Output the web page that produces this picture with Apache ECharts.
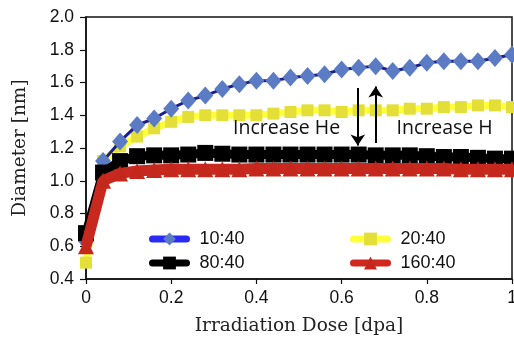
<!DOCTYPE html>
<html>
<head>
<meta charset="utf-8">
<script src="https://cdn.jsdelivr.net/npm/echarts@6/dist/echarts.min.js"></script>
<style>
  html, body { margin: 0; padding: 0; background: #fff; }
  #chart { width: 514px; height: 343px; }
</style>
</head>
<body>
<div id="chart"></div>
<script>
// Irradiation dose (dpa) at which each cluster diameter was sampled
const doses = [0, 0.04, 0.08, 0.12, 0.16, 0.2, 0.24, 0.28, 0.32, 0.36, 0.4, 0.44, 0.48,
               0.52, 0.56, 0.6, 0.64, 0.68, 0.72, 0.76, 0.8, 0.84, 0.88, 0.92, 0.96, 1.0];

// Mean cluster diameter [nm] for each He:H ratio
const d10_40 = [0.63, 1.12, 1.24, 1.34, 1.38, 1.44, 1.49, 1.52, 1.56, 1.59, 1.61, 1.61, 1.63,
                1.64, 1.65, 1.68, 1.69, 1.70, 1.67, 1.69, 1.72, 1.73, 1.73, 1.73, 1.75, 1.77];
const d20_40 = [0.50, 1.12, 1.21, 1.27, 1.32, 1.36, 1.39, 1.40, 1.40, 1.40, 1.40, 1.41, 1.42,
                1.43, 1.43, 1.42, 1.43, 1.43, 1.43, 1.44, 1.44, 1.45, 1.45, 1.46, 1.46, 1.45];
const d80_40 = [0.68, 1.05, 1.12, 1.15, 1.155, 1.155, 1.16, 1.17, 1.165, 1.16, 1.16, 1.16, 1.16,
                1.16, 1.16, 1.16, 1.16, 1.155, 1.155, 1.155, 1.15, 1.145, 1.145, 1.14, 1.135, 1.135];
const d160_40 = [0.60, 1.00, 1.045, 1.06, 1.065, 1.07, 1.07, 1.07, 1.07, 1.07, 1.075, 1.075, 1.075,
                 1.075, 1.075, 1.075, 1.075, 1.075, 1.075, 1.075, 1.075, 1.075, 1.07, 1.07, 1.07, 1.07];

const seriesNames = ['10:40', '20:40', '80:40', '160:40'];

// Trend arrows: [dose, diameter from] -> [dose, diameter to]
const arrowHe = [[0.638, 1.566], [0.638, 1.215]];
const arrowH = [[0.680, 1.230], [0.680, 1.575]];

const pairs = (ys) => doses.map((x, i) => [x, ys[i]]);

const chart = echarts.init(document.getElementById('chart'), null, { renderer: 'canvas' });

const tickFont = { fontFamily: 'Liberation Sans', fontSize: 17.5, color: '#111' };
const titleFont = { fontFamily: 'DejaVu Serif', fontSize: 18.5, color: '#222' };
const legendText = { fontFamily: 'Liberation Sans', fontSize: 18, color: '#111', padding: [0, 0, 0, 8] };

const legendBox = { orient: 'vertical', top: 225, itemWidth: 34, itemHeight: 16, itemGap: 6, textStyle: legendText };

chart.setOption({
  animation: false,
  backgroundColor: '#fff',
  grid: {
    left: 86, right: 2, top: 17, bottom: 64, containLabel: false, outerBoundsMode: 'none',
    show: true, borderColor: '#111', borderWidth: 1.5
  },
  xAxis: {
    type: 'value', min: 0, max: 1, interval: 0.2,
    name: 'Irradiation Dose [dpa]', nameLocation: 'middle', nameGap: 38, nameTextStyle: titleFont,
    axisLine: { lineStyle: { color: '#111', width: 1.5 } },
    axisTick: { inside: false, length: 5, lineStyle: { color: '#111', width: 1.2 } },
    axisLabel: Object.assign({ margin: 10 }, tickFont),
    splitLine: { show: false }
  },
  yAxis: {
    type: 'value', min: 0.4, max: 2.0, interval: 0.2,
    name: 'Diameter [nm]', nameLocation: 'middle', nameGap: 56, nameTextStyle: titleFont,
    axisLine: { show: true, lineStyle: { color: '#111', width: 1.5 } },
    axisTick: { show: true, inside: false, length: 6, lineStyle: { color: '#111', width: 1.2 } },
    axisLabel: Object.assign({ margin: 12, formatter: (v) => v.toFixed(1) }, tickFont),
    splitLine: { show: false }
  },
  legend: [
    Object.assign({}, legendBox, {
      left: 144,
      data: [
        { name: '10:40', lineStyle: { color: '#2a2af5', width: 7, cap: 'round' } },
        { name: '80:40', lineStyle: { color: '#000', width: 7, cap: 'round' } }
      ]
    }),
    Object.assign({}, legendBox, {
      left: 345,
      data: [
        { name: '20:40', lineStyle: { color: '#ffff3a', width: 7, cap: 'round' } },
        { name: '160:40', lineStyle: { color: '#d0281e', width: 7, cap: 'round' } }
      ]
    })
  ],
  series: [
    {
      name: seriesNames[1], type: 'line', data: pairs(d20_40), z: 2,
      symbol: 'rect', symbolSize: 12, showAllSymbol: true,
      lineStyle: { color: '#ffff3a', width: 7 },
      itemStyle: { color: '#e3df38' }
    },
    {
      name: seriesNames[0], type: 'line', data: pairs(d10_40), z: 3,
      symbol: 'diamond', symbolSize: [16, 18], showAllSymbol: true,
      lineStyle: { color: '#1d1d8c', width: 3 },
      itemStyle: { color: '#5b7cc5' }
    },
    {
      name: seriesNames[2], type: 'line', data: pairs(d80_40), z: 4,
      symbol: 'rect', symbolSize: 16, showAllSymbol: true,
      lineStyle: { color: '#000', width: 9 },
      itemStyle: { color: '#000' }
    },
    {
      name: seriesNames[3], type: 'line', data: pairs(d160_40), z: 5,
      symbol: 'triangle', symbolSize: 16, showAllSymbol: true,
      lineStyle: { color: '#c8281e', width: 11 },
      itemStyle: { color: '#c4281c' },
      markLine: {
        silent: true, animation: false,
        symbol: ['none', 'arrow'], symbolSize: 11,
        label: { show: false },
        lineStyle: { color: '#000', width: 2, type: 'solid' },
        data: [
          [{ coord: arrowHe[0] }, { coord: arrowHe[1] }],
          [{ coord: arrowH[0] }, { coord: arrowH[1] }]
        ]
      }
    }
  ],
  graphic: [
    { type: 'text', z: 10, style: { x: 233, y: 128.5, text: 'Increase He', font: '19.5px "Open Sans"', fill: '#111', verticalAlign: 'middle' } },
    { type: 'text', z: 10, style: { x: 396.5, y: 128.5, text: 'Increase H', font: '19.5px "Open Sans"', fill: '#111', verticalAlign: 'middle' } }
  ]
});
</script>
</body>
</html>
